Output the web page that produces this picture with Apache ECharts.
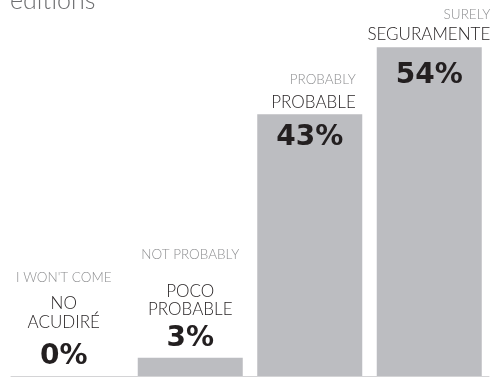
<!DOCTYPE html>
<html>
<head>
<meta charset="utf-8">
<script src="https://cdn.jsdelivr.net/npm/echarts@6/dist/echarts.min.js"></script>
<style>html,body{margin:0;padding:0;background:#fff;}#c{width:498px;height:377px;}</style>
</head>
<body>
<div id="c"></div>
<script>
const titleText = 'editions';
const categories = ['NO ACUDIRÉ', 'POCO PROBABLE', 'PROBABLE', 'SEGURAMENTE'];
const spanishLines = [['NO', 'ACUDIRÉ'], ['POCO', 'PROBABLE'], ['PROBABLE'], ['SEGURAMENTE']];
const englishLabels = ["I WON'T COME", 'NOT PROBABLY', 'PROBABLY', 'SURELY'];
const values = [0, 3, 43, 54];

// layout (styling only)
const pctLayout = [
  { position: 'top', distance: 4, offset: [-7, 0] },
  { position: 'top', distance: 4, offset: [0, 0] },
  { position: 'insideTop', distance: 9, offset: [0, 0] },
  { position: 'insideTop', distance: 14, offset: [0, 0] }
];
const nameLayout = [
  { align: 'center', enLh: 33, esLh: 19, offset: [-7, -39] },
  { align: 'center', enLh: 56, esLh: 18, offset: [0, -34] },
  { align: 'right', enLh: 26, esLh: 18, offset: [46, 2] },
  { align: 'right', enLh: 20, esLh: 18, offset: [61, 1] }
];

const FONT = 'Lato, "Noto Sans", sans-serif';
const PCT_FONT = '"DejaVu Sans", Lato, sans-serif';
const BAR = '#bcbdc1';
const DARK = '#231f20';
const LIGHT = '#8d8e90';

const barData = values.map((v, i) => ({
  value: v,
  label: {
    show: true,
    position: pctLayout[i].position,
    distance: pctLayout[i].distance,
    offset: pctLayout[i].offset,
    formatter: '{c}%',
    fontFamily: PCT_FONT,
    fontWeight: 'bold',
    fontSize: 28,
    lineHeight: 30,
    color: DARK
  }
}));

const nameData = values.map((v, i) => {
  const L = nameLayout[i];
  const text = '{en|' + englishLabels[i] + '}\n' + spanishLines[i].map(s => '{es|' + s + '}').join('\n');
  return {
    value: v,
    label: {
      show: true,
      position: 'top',
      distance: 5,
      offset: L.offset,
      align: L.align,
      formatter: text,
      rich: {
        en: { fontFamily: FONT, fontSize: 13.5, fontWeight: 300, color: LIGHT, lineHeight: L.enLh, align: L.align },
        es: { fontFamily: FONT, fontSize: 17, fontWeight: 300, color: DARK, lineHeight: L.esLh, align: L.align }
      }
    }
  };
});

const chart = echarts.init(document.getElementById('c'), null, { renderer: 'canvas' });
chart.setOption({
  animation: false,
  backgroundColor: '#fff',
  title: {
    text: titleText,
    left: 5,
    top: -17,
    textStyle: { fontFamily: FONT, fontSize: 25, fontWeight: 300, color: '#6d6e70' }
  },
  grid: { left: 11, right: 9, top: 10.6, bottom: 1, containLabel: false },
  xAxis: {
    type: 'category',
    data: categories,
    axisLine: { show: true, lineStyle: { color: '#d4d4d6', width: 1 } },
    axisTick: { show: false },
    axisLabel: { show: false }
  },
  yAxis: {
    type: 'value',
    min: 0,
    max: 60,
    show: false,
    splitLine: { show: false }
  },
  series: [
    {
      type: 'bar',
      data: barData,
      barWidth: 105,
      itemStyle: { color: BAR },
      z: 3
    },
    {
      type: 'bar',
      data: nameData,
      barWidth: 105,
      barGap: '-100%',
      itemStyle: { color: 'rgba(0,0,0,0)' },
      z: 4,
      silent: true
    }
  ]
});
</script>
</body>
</html>
